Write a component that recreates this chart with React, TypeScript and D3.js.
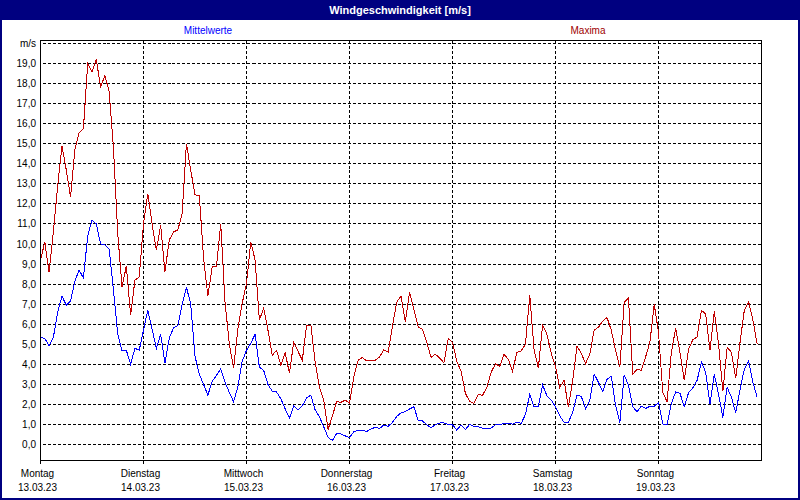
import React from "react";
import * as d3 from "d3";

const title = "Windgeschwindigkeit [m/s]";
const seriesNames = ["Mittelwerte", "Maxima"];
const dayNames = ["Montag", "Dienstag", "Mittwoch", "Donnerstag", "Freitag", "Samstag", "Sonntag"];
const dayDates = ["13.03.23", "14.03.23", "15.03.23", "16.03.23", "17.03.23", "18.03.23", "19.03.23"];
const yTicks = [0, 1, 2, 3, 4, 5, 6, 7, 8, 9, 10, 11, 12, 13, 14, 15, 16, 17, 18, 19];
const yUnit = "m/s";

// hourly values, starting Monday 13.03.23 00:00
const meanValues = [
  5.37, 5.28, 4.93, 5.35, 6.6, 7.4, 6.95, 7.15, 8.15, 8.7, 8.3, 10.4, 11.2, 11.0, 10.0, 9.95, 9.75, 7.7, 5.5, 4.68, 4.7, 4.0, 4.8, 4.7,
  5.7, 6.7, 5.75, 4.8, 5.5, 4.05, 5.3, 5.82, 5.92, 7.0, 7.85, 7.0, 4.4, 3.5, 3.0, 2.46, 3.15, 3.45, 3.77, 3.1, 2.6, 2.13, 2.9, 4.15,
  4.7, 5.05, 5.5, 3.85, 3.7, 3.0, 2.65, 2.62, 2.28, 1.78, 1.31, 1.93, 1.74, 1.92, 2.33, 2.46, 1.72, 1.38, 0.88, 0.36, 0.2, 0.55, 0.53, 0.43,
  0.35, 0.63, 0.71, 0.7, 0.65, 0.77, 0.86, 0.8, 0.97, 0.9, 1.1, 1.4, 1.58, 1.64, 1.77, 1.88, 1.21, 1.18, 0.98, 0.85, 0.98, 1.07, 1.08, 1.0,
  0.98, 0.72, 0.98, 0.74, 1.0, 0.89, 0.88, 0.82, 0.8, 0.82, 0.98, 1.0, 1.05, 1.07, 1.02, 1.12, 1.05, 1.5, 2.5, 1.88, 1.9, 2.97, 2.43, 2.22,
  1.87, 1.43, 1.1, 1.1, 1.62, 2.45, 2.4, 1.8, 2.2, 3.52, 3.1, 2.65, 3.25, 3.4, 1.95, 1.08, 3.48, 2.95, 1.88, 1.63, 1.92, 1.8, 1.9, 1.9,
  2.1, 1.03, 0.97, 2.05, 2.62, 2.55, 1.9, 2.58, 2.83, 3.2, 4.12, 3.6, 2.0, 3.5, 2.5, 1.35, 2.85, 2.35, 1.58, 2.75, 3.75, 4.15, 3.1, 2.34,
];

const maxValues = [
  9.2, 10.1, 8.6, 10.6, 12.9, 14.9, 13.7, 12.35, 14.7, 15.55, 15.75, 19.0, 18.6, 19.2, 17.84, 18.4, 17.6, 14.8, 10.5, 7.86, 8.9, 6.45, 8.2, 8.35,
  11.0, 12.5, 11.0, 9.7, 10.94, 8.61, 10.2, 10.6, 10.7, 11.5, 15.0, 13.7, 12.45, 12.43, 9.3, 7.4, 8.86, 8.86, 11.0, 7.1, 5.0, 3.8, 5.8, 7.05,
  8.03, 10.1, 9.2, 6.2, 6.8, 5.7, 4.45, 4.7, 3.95, 4.6, 3.55, 5.1, 4.65, 4.2, 5.95, 5.95, 4.1, 2.85, 2.2, 0.75, 1.4, 2.15, 2.1, 2.22,
  2.05, 3.37, 4.2, 4.34, 4.17, 4.17, 4.2, 4.37, 4.72, 4.6, 5.9, 7.1, 7.4, 6.1, 7.6, 6.75, 5.87, 5.75, 5.1, 4.35, 4.5, 4.32, 4.07, 5.28,
  5.1, 4.15, 3.65, 2.55, 2.15, 2.05, 2.5, 2.45, 2.85, 3.6, 4.02, 3.9, 4.5, 4.25, 3.65, 4.6, 4.67, 5.0, 7.45, 4.75, 3.8, 5.95, 5.5, 4.55,
  3.87, 2.85, 3.2, 1.85, 3.2, 4.9, 4.55, 4.04, 4.5, 5.7, 5.85, 6.15, 6.33, 5.7, 4.7, 3.85, 7.1, 7.3, 3.5, 3.75, 3.7, 4.37, 5.1, 7.0,
  5.6, 2.6, 2.13, 4.6, 5.8, 4.6, 3.2, 4.75, 5.22, 5.37, 6.7, 6.5, 4.7, 6.65, 5.0, 2.65, 4.84, 4.6, 3.3, 5.1, 6.7, 7.12, 6.2, 5.0,
];

const W = 800;
const H = 500;
const NAVY = "#000080";
const BLUE = "#0000ff";
const RED = "#c00000";
const FONT = "'Liberation Sans', Arial, sans-serif";

export default function App() {
  const hoursTotal = dayNames.length * 24;
  const x = d3.scaleLinear().domain([0, hoursTotal]).range([40.5, 761.5]);
  const y = d3.scaleLinear().domain([0, 20]).range([444.5, 43.5]);

  const line = d3
    .line<number>()
    .x((_, i) => x(i))
    .y((d) => y(d));

  const plotLeft = x(0);
  const plotRight = x(hoursTotal);
  const plotTop = 40.5;
  const plotBottom = 460.5;

  const gridY = [...yTicks, 20];
  const dayIdx = d3.range(dayNames.length);

  return (
    <svg
      width={W}
      height={H}
      style={{ position: "absolute", left: 0, top: 0, display: "block" }}
      fontFamily={FONT}
    >
      <rect x={0} y={0} width={W} height={H} fill="#ffffff" />
      {/* outer frame */}
      <rect x={1} y={1} width={W - 2} height={H - 2} fill="none" stroke={NAVY} strokeWidth={2} />
      <rect x={0} y={0} width={W} height={20} fill={NAVY} />
      <text x={W / 2} y={14} textAnchor="middle" fill="#ffffff" fontSize={11} fontWeight="bold">
        {title}
      </text>

      {/* legend */}
      <text x={208} y={34} textAnchor="middle" fill={BLUE} fontSize={10}>
        {seriesNames[0]}
      </text>
      <text x={588} y={34} textAnchor="middle" fill="#a00000" fontSize={10}>
        {seriesNames[1]}
      </text>

      {/* grid */}
      <g stroke="#000" strokeWidth={1} strokeDasharray="3,2" shapeRendering="crispEdges">
        {gridY.map((v) => (
          <line key={"h" + v} x1={plotLeft + 2} x2={plotRight} y1={y(v)} y2={y(v)} />
        ))}
        {dayIdx.slice(1).map((d) => (
          <line key={"v" + d} x1={x(d * 24)} x2={x(d * 24)} y1={plotTop} y2={plotBottom} />
        ))}
      </g>

      {/* y labels */}
      <g fontSize={10} fill="#000" textAnchor="end">
        {yTicks.map((v) => (
          <text key={v} x={36} y={y(v) + 3.5}>
            {d3.format(".1f")(v).replace(".", ",")}
          </text>
        ))}
        <text x={36} y={y(20) + 3.5}>
          {yUnit}
        </text>
      </g>

      {/* data */}
      <path d={line(meanValues) || ""} fill="none" stroke={BLUE} strokeWidth={1} shapeRendering="crispEdges" />
      <path d={line(maxValues) || ""} fill="none" stroke={RED} strokeWidth={1} shapeRendering="crispEdges" />

      {/* plot frame */}
      <rect
        x={plotLeft}
        y={plotTop}
        width={plotRight - plotLeft}
        height={plotBottom - plotTop}
        fill="none"
        stroke="#000"
        strokeWidth={1}
        shapeRendering="crispEdges"
      />
      <g stroke="#000" strokeWidth={1} shapeRendering="crispEdges">
        {dayIdx.map((d) => (
          <line key={"t" + d} x1={x(d * 24)} x2={x(d * 24)} y1={plotBottom} y2={plotBottom + 3} />
        ))}
      </g>

      {/* x labels */}
      <g fontSize={10} fill="#000" textAnchor="middle">
        {dayIdx.map((d) => (
          <g key={"l" + d}>
            <text x={x(d * 24) - 3} y={477}>
              {dayNames[d]}
            </text>
            <text x={x(d * 24) - 3} y={491}>
              {dayDates[d]}
            </text>
          </g>
        ))}
      </g>
    </svg>
  );
}
